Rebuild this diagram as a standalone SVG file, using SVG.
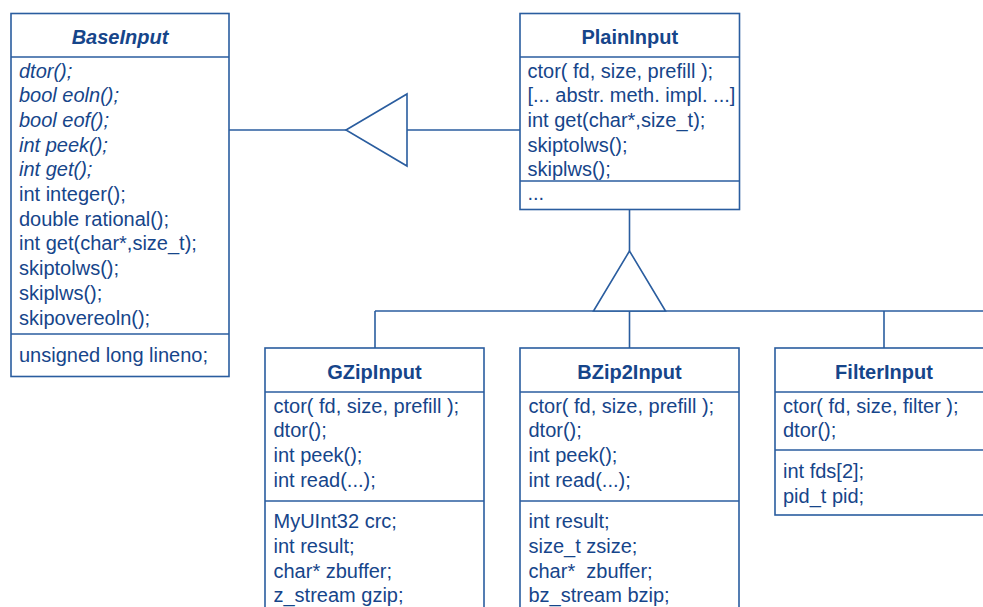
<svg xmlns="http://www.w3.org/2000/svg" width="983" height="607" viewBox="0 0 983 607">
  <style>
    .box { fill: #ffffff; stroke: #2a5d9f; stroke-width: 1.6; }
    .sep { stroke: #2a5d9f; stroke-width: 1.6; fill: none; }
    .conn { stroke: #2a5d9f; stroke-width: 1.6; fill: none; }
    .tri { stroke: #2a5d9f; stroke-width: 1.6; fill: #ffffff; stroke-linejoin: miter; }
    text { font-family: "Liberation Sans", Arial, sans-serif; font-size: 20px; fill: #16458a; }
    .title { font-weight: bold; text-anchor: middle; }
    .abstract { font-style: italic; }
  </style>
  <rect width="983" height="607" fill="#ffffff"/>

  <!-- generalisation connectors -->
  <g id="connectors">
    <!-- PlainInput -> BaseInput -->
    <line class="conn" x1="229" y1="130" x2="346" y2="130"/>
    <line class="conn" x1="407" y1="130" x2="520" y2="130"/>
    <polygon class="tri" points="346,130 407,94 407,166"/>
    <!-- subclasses -> PlainInput -->
    <line class="conn" x1="629.5" y1="209.5" x2="629.5" y2="251"/>
    <line class="conn" x1="375" y1="311" x2="990" y2="311"/>
    <line class="conn" x1="375" y1="311" x2="375" y2="348"/>
    <line class="conn" x1="629.5" y1="311" x2="629.5" y2="348"/>
    <line class="conn" x1="884" y1="311" x2="884" y2="348"/>
    <polygon class="tri" points="629.5,251 593.5,311 665.5,311"/>
  </g>

  <g id="BaseInput">
    <rect class="box" x="11" y="13.5" width="218" height="363"/>
    <line class="sep" x1="11" y1="57" x2="229" y2="57"/>
    <line class="sep" x1="11" y1="334" x2="229" y2="334"/>
    <text class="title abstract" x="120" y="43.5">BaseInput</text>
    <text class="abstract" x="19" y="77.5">dtor();</text>
    <text class="abstract" x="19" y="102.2">bool eoln();</text>
    <text class="abstract" x="19" y="126.9">bool eof();</text>
    <text class="abstract" x="19" y="151.6">int peek();</text>
    <text class="abstract" x="19" y="176.3">int get();</text>
    <text x="19" y="201">int integer();</text>
    <text x="19" y="225.7">double rational();</text>
    <text x="19" y="250.4">int get(char*,size_t);</text>
    <text x="19" y="275.1">skiptolws();</text>
    <text x="19" y="299.8">skiplws();</text>
    <text x="19" y="324.5">skipovereoln();</text>
    <text x="19" y="361.5">unsigned long lineno;</text>
  </g>

  <g id="PlainInput">
    <rect class="box" x="520" y="13.5" width="219.5" height="196"/>
    <line class="sep" x1="520" y1="57" x2="739.5" y2="57"/>
    <line class="sep" x1="520" y1="181" x2="739.5" y2="181"/>
    <text class="title" x="629.75" y="43.5">PlainInput</text>
    <text x="527.5" y="77.5">ctor( fd, size, prefill );</text>
    <text x="527.5" y="102.2">[... abstr. meth. impl. ...]</text>
    <text x="527.5" y="126.9">int get(char*,size_t);</text>
    <text x="527.5" y="151.6">skiptolws();</text>
    <text x="527.5" y="176.3">skiplws();</text>
    <text x="527.5" y="200">...</text>
  </g>

  <g id="GZipInput">
    <rect class="box" x="265" y="348" width="219" height="280"/>
    <line class="sep" x1="265" y1="392" x2="484" y2="392"/>
    <line class="sep" x1="265" y1="501" x2="484" y2="501"/>
    <text class="title" x="374.5" y="379">GZipInput</text>
    <text x="273.5" y="412.7">ctor( fd, size, prefill );</text>
    <text x="273.5" y="437.3">dtor();</text>
    <text x="273.5" y="461.9">int peek();</text>
    <text x="273.5" y="486.5">int read(...);</text>
    <text x="273.5" y="528.3">MyUInt32 crc;</text>
    <text x="273.5" y="552.9">int result;</text>
    <text x="273.5" y="577.5">char* zbuffer;</text>
    <text x="273.5" y="602.1">z_stream gzip;</text>
  </g>

  <g id="BZip2Input">
    <rect class="box" x="520" y="348" width="219" height="280"/>
    <line class="sep" x1="520" y1="392" x2="739" y2="392"/>
    <line class="sep" x1="520" y1="501" x2="739" y2="501"/>
    <text class="title" x="629.5" y="379">BZip2Input</text>
    <text x="528.5" y="412.7">ctor( fd, size, prefill );</text>
    <text x="528.5" y="437.3">dtor();</text>
    <text x="528.5" y="461.9">int peek();</text>
    <text x="528.5" y="486.5">int read(...);</text>
    <text x="528.5" y="528.3">int result;</text>
    <text x="528.5" y="552.9">size_t zsize;</text>
    <text x="528.5" y="577.5" xml:space="preserve">char*  zbuffer;</text>
    <text x="528.5" y="602.1">bz_stream bzip;</text>
  </g>

  <g id="FilterInput">
    <rect class="box" x="775" y="348" width="218" height="167"/>
    <line class="sep" x1="775" y1="392" x2="993" y2="392"/>
    <line class="sep" x1="775" y1="450" x2="993" y2="450"/>
    <text class="title" x="884" y="379">FilterInput</text>
    <text x="783" y="412.7">ctor( fd, size, filter );</text>
    <text x="783" y="437.3">dtor();</text>
    <text x="783" y="478">int fds[2];</text>
    <text x="783" y="502.6">pid_t pid;</text>
  </g>
</svg>
